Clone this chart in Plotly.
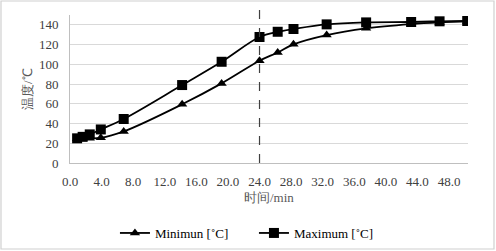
import plotly.graph_objects as go

time_min = [0.9, 1.6, 2.5, 3.9, 6.8, 14.2, 19.2, 24.0, 26.3, 28.3, 32.5, 37.5, 43.2, 46.8, 50.3]
minimum = [24.5, 25.0, 25.0, 25.5, 32.0, 59.5, 80.7, 103.6, 112.0, 120.3, 129.7, 136.5, 140.8, 142.5, 143.5]
maximum = [25.0, 26.5, 29.0, 34.0, 44.6, 79.0, 102.6, 127.7, 133.0, 135.8, 140.5, 142.5, 142.9, 143.6, 143.9]
x_ticks = [0, 4, 8, 12, 16, 20, 24, 28, 32, 36, 40, 44, 48]
x_ticktext = ["%.1f" % v for v in x_ticks]
y_ticks = [0, 20, 40, 60, 80, 100, 120, 140]
marker_time = 24.0

FONT = "Liberation Serif, serif"
W, H = 496, 251
L, R, T, B = 70, 28, 15, 88
PW, PH = W - L - R, H - T - B

fig = go.Figure()
fig.add_trace(go.Scatter(
    x=time_min, y=minimum, name="Minimun [˚C]", mode="lines+markers",
    line=dict(color="black", width=1.8, shape="spline"),
    marker=dict(symbol="triangle-up", size=9, color="black"),
))
fig.add_trace(go.Scatter(
    x=time_min, y=maximum, name="Maximum [˚C]", mode="lines+markers",
    line=dict(color="black", width=1.8, shape="spline"),
    marker=dict(symbol="square", size=10, color="black"),
))

fig.add_shape(type="line", xref="x", yref="paper", x0=marker_time, x1=marker_time,
              y0=0, y1=1 + 12 / PH, line=dict(color="#404040", width=1.2, dash="dash"))

fig.add_shape(type="rect", xref="paper", yref="paper",
              x0=(-L + 1) / PW, x1=1 + (R - 2) / PW,
              y0=(-B + 2) / PH, y1=1 + (T - 1) / PH,
              line=dict(color="#d0d0d0", width=1.2), layer="below")

fig.add_annotation(text="时间/min", xref="paper", yref="paper", x=0.5, y=-34 / PH,
                   showarrow=False, xanchor="center", yanchor="middle",
                   font=dict(family=FONT, size=13, color="#595959"))
fig.add_annotation(text="温度/℃", xref="paper", yref="paper", x=-43 / PW, y=0.5,
                   showarrow=False, xanchor="center", yanchor="middle", textangle=-90,
                   font=dict(family=FONT, size=13, color="#595959"))

fig.update_layout(
    template="none",
    width=W, height=H,
    margin=dict(l=L, r=R, t=T, b=B, autoexpand=False),
    paper_bgcolor="white", plot_bgcolor="white",
    font=dict(family=FONT, size=13, color="#404040"),
    showlegend=True,
    legend=dict(orientation="h", x=0.512, xref="container", xanchor="center",
                y=1 - 233 / H, yref="container", yanchor="middle",
                font=dict(family=FONT, size=13, color="black"), itemwidth=30,
                entrywidth=94, bgcolor="rgba(0,0,0,0)"),
    xaxis=dict(range=[0, 50.4], tickvals=x_ticks, ticktext=x_ticktext,
               showgrid=False, zeroline=False, showline=True, linecolor="#bfbfbf",
               linewidth=1, ticks="", ticklabelstandoff=6, automargin=False,
               tickfont=dict(family=FONT, size=13, color="#404040")),
    yaxis=dict(range=[0, 150], tickvals=y_ticks, showgrid=True, gridcolor="#d9d9d9",
               gridwidth=1, zeroline=False, showline=True, linecolor="#bfbfbf",
               linewidth=1, ticks="", ticklabelstandoff=8, automargin=False,
               tickfont=dict(family=FONT, size=13, color="#404040")),
)

fig.write_html("out.html", config={"displayModeBar": False},
               post_script="document.body.style.margin='0';")
